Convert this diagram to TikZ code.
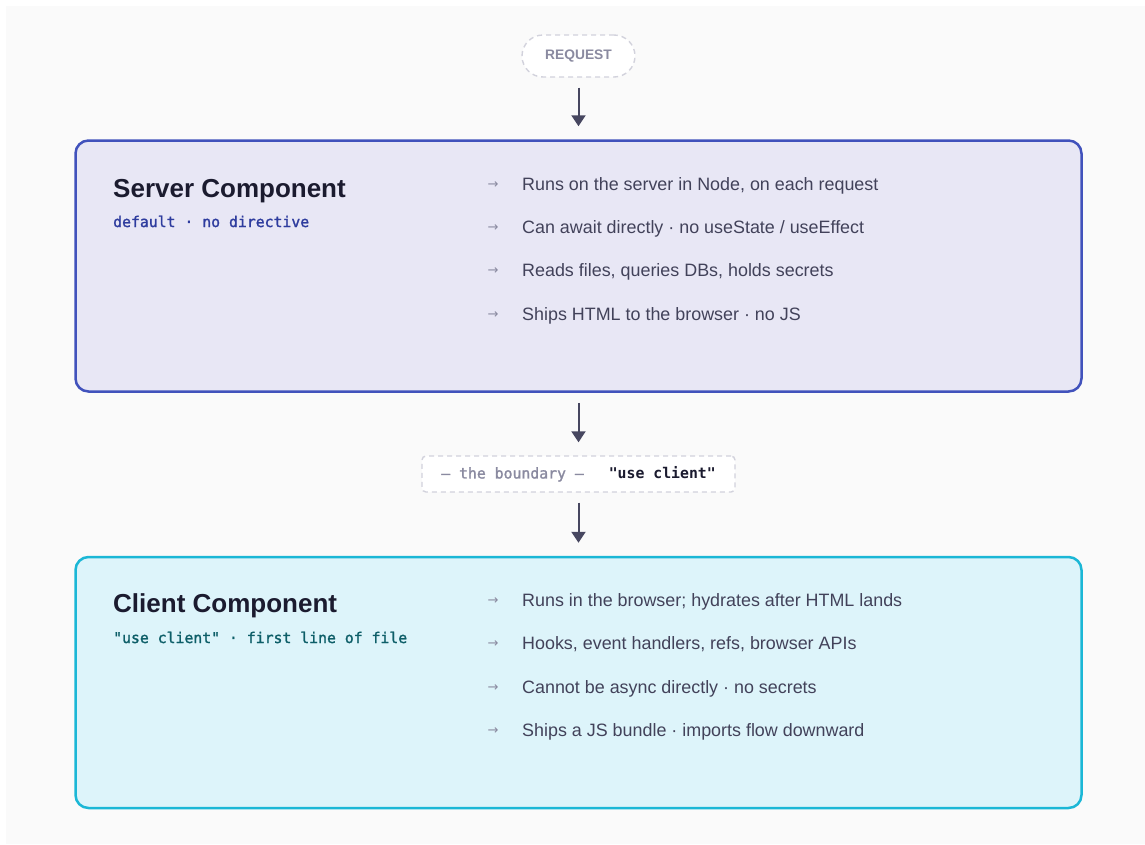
\documentclass[tikz,border=0pt]{standalone}
\usepackage{fontspec}
\setmainfont{Liberation Sans}
\setmonofont{DejaVu Sans Mono}
\newfontfamily\monomed[FakeBold=1.5]{DejaVu Sans Mono}
\newfontfamily\arrowfont{DejaVu Sans}
\usepackage{tikz}
\usetikzlibrary{arrows.meta}

\definecolor{bgcol}{HTML}{FAFAFA}
\definecolor{srvfill}{HTML}{E8E7F5}
\definecolor{srvline}{HTML}{4152BC}
\definecolor{srvsub}{HTML}{2E3C9E}
\definecolor{clifill}{HTML}{DDF4FA}
\definecolor{cliline}{HTML}{1BB7D6}
\definecolor{clisub}{HTML}{0D5E68}
\definecolor{titlecol}{HTML}{1B1B2F}
\definecolor{textcol}{HTML}{42425A}
\definecolor{mutedcol}{HTML}{8A8AA0}
\definecolor{arrowcol}{HTML}{474760}
\definecolor{dashcol}{HTML}{D2D2DC}

\begin{document}
\begin{tikzpicture}[x=1pt,y=-1pt,
  panel/.style={draw,line width=2.5pt,rounded corners=13pt,minimum width=1006pt,minimum height=251pt,inner sep=0pt},
  tag/.style={draw=dashcol,dashed,dash pattern=on 5pt off 4pt,line width=1.4pt,fill=white,inner sep=0pt},
  flow/.style={draw=arrowcol,line width=2pt,-{Triangle[length=11pt,width=14pt]},shorten <=10pt,shorten >=13pt},
  title/.style={anchor=base west,inner sep=0pt,font=\fontsize{26}{30}\selectfont\bfseries,text=titlecol},
  sub/.style={anchor=base west,inner sep=0pt,font=\fontsize{14.8}{17}\selectfont\monomed},
  item/.style={anchor=base west,inner sep=0pt,font=\fontsize{17.9}{21}\selectfont,text=textcol},
  bullet/.style={anchor=base,inner sep=0pt,font=\fontsize{13}{15}\selectfont\arrowfont,text=mutedcol}]
\useasboundingbox (0,0) rectangle (1145,844);
\fill[bgcol] (6,6) rectangle (1145,844);

\node[tag,rounded corners=21pt,minimum width=113pt,minimum height=42pt,text=mutedcol,font=\fontsize{13.8}{16}\selectfont\bfseries] (req) at (578.5,56) {REQUEST};

\node[panel,draw=srvline,fill=srvfill] (srv) at (578.5,266) {};
\node[title] (srvT) at (113,197) {Server Component};
\node[sub,text=srvsub] (srvS) at (113,227) {default · no directive};
\node[bullet] (s1m) at (493,188) {→};
\node[item] (s1) at (522,190) {Runs on the server in Node, on each request};
\node[bullet] (s2m) at (493,231) {→};
\node[item] (s2) at (522,233) {Can await directly · no useState / useEffect};
\node[bullet] (s3m) at (493,274) {→};
\node[item] (s3) at (522,276) {Reads files, queries DBs, holds secrets};
\node[bullet] (s4m) at (493,318) {→};
\node[item] (s4) at (522,320) {Ships HTML to the browser · no JS};

\node[tag,rounded corners=4pt,minimum width=313pt,minimum height=36pt,font=\fontsize{14.8}{17}\selectfont\monomed] (bnd) at (578.5,474)
  {\textcolor{mutedcol}{— the boundary —}\hspace{25pt}\textcolor{titlecol}{\ttfamily\bfseries "use client"}};

\node[panel,draw=cliline,fill=clifill] (cli) at (578.5,682.5) {};
\node[title] (cliT) at (113,612) {Client Component};
\node[sub,text=clisub] (cliS) at (113,643) {"use client" · first line of file};
\node[bullet] (c1m) at (493,604) {→};
\node[item] (c1) at (522,606) {Runs in the browser; hydrates after HTML lands};
\node[bullet] (c2m) at (493,647) {→};
\node[item] (c2) at (522,649) {Hooks, event handlers, refs, browser APIs};
\node[bullet] (c3m) at (493,691) {→};
\node[item] (c3) at (522,693) {Cannot be async directly · no secrets};
\node[bullet] (c4m) at (493,734) {→};
\node[item] (c4) at (522,736) {Ships a JS bundle · imports flow downward};

\draw[flow] (req) -- (srv);
\draw[flow] (srv) -- (bnd);
\draw[flow] (bnd) -- (cli);
\end{tikzpicture}
\end{document}
